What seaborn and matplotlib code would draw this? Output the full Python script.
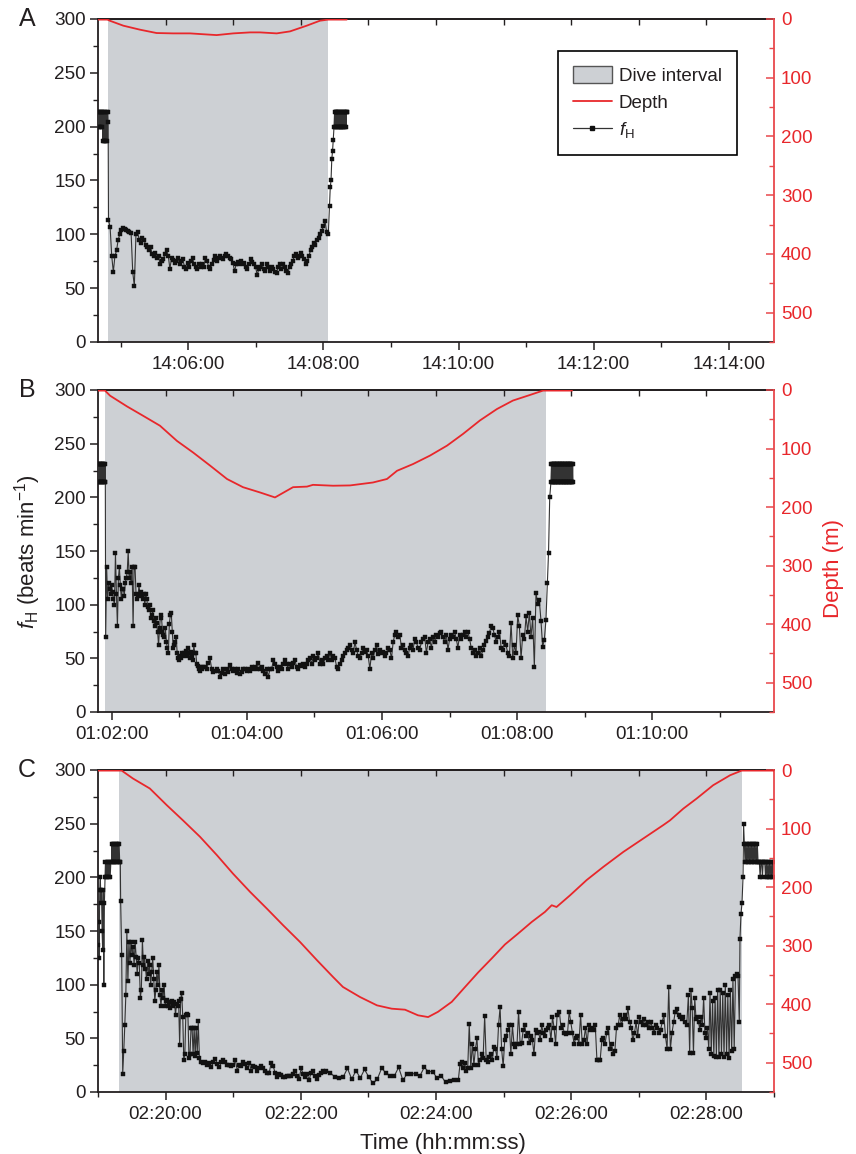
import numpy as np
import matplotlib
matplotlib.use("Agg")
import matplotlib.pyplot as plt
import seaborn as sns
from matplotlib.ticker import MultipleLocator, FuncFormatter, NullFormatter
from matplotlib.patches import Patch
from matplotlib.lines import Line2D

# ------------------------------------------------------------------ data
panel_letters = ["A", "B", "C"]
panel_start_s = [14 * 3600 + 4 * 60 + 40, 1 * 3600 + 1 * 60 + 48, 2 * 3600 + 19 * 60]
window_s = 600
dive_intervals = [(9.2, 203.9), (6.2, 397.6), (18.6, 571.3)]  # s from panel start

# ---- Panel A heart rate (beats/min), segments with (start, end) in s
hrA_pre = [214, 200, 214, 200, 214, 200, 214, 200, 214, 187, 214, 187, 214, 187,
           214, 187, 214, 187, 214, 204]
hrA_dive = [113, 107, 80, 65, 80, 85, 95, 100, 104, 106, 105, 104, 103, 102, 101, 65, 52,
            100, 102, 95, 92, 97, 95, 90, 88, 85, 88, 82, 80, 83, 78, 80, 72, 75, 77, 82,
            85, 80, 68, 78, 76, 73, 75, 78, 72, 75, 77, 70, 68, 73, 70, 75, 78, 72, 70, 68,
            72, 70, 72, 70, 78, 75, 70, 68, 72, 76, 80, 75, 78, 80, 78, 77, 80, 82, 80, 78,
            77, 73, 66, 72, 74, 72, 75, 72, 73, 70, 68, 72, 77, 74, 72, 70, 62, 68, 70, 72,
            68, 66, 72, 70, 66, 70, 68, 65, 64, 70, 72, 68, 72, 70, 66, 64, 70, 72, 75, 80,
            82, 78, 80, 83, 80, 77, 72, 75, 80, 85, 88, 92, 90, 95, 97, 100, 103, 108, 112,
            102, 100]
hrA_rise = [126, 144, 150, 170, 177, 188, 200]
hrA_post = [214, 200, 214, 200, 214, 200, 214, 200, 214, 200, 214, 200, 214, 200,
            214, 200, 214, 200, 214, 200, 214, 200, 214, 200, 214, 200, 214, 214]
hrA_spans = [(0.0, 9.0), (9.3, 204.4), (205.5, 209.5), (210.0, 221.0)]

depthA_t = [0, 8.3, 10.6, 22.5, 37.3, 52, 66.8, 81.8, 90.5, 105.3, 120, 135, 143.8,
            158.6, 170.4, 185.2, 197, 204.4, 220.7]
depthA_m = [1, 1, 3, 11.4, 18.2, 23.9, 24.5, 24.5, 25.6, 27.4, 24.5, 22.8, 22.8,
            24.5, 21.1, 11.4, 2.9, 1, 1]

# ---- Panel B
hrB_pre = [231, 214, 231, 214, 231, 214, 231, 214, 231, 214, 231, 214, 231, 214,
           231, 214, 231, 214, 231, 214]
hrB_dive1 = [70, 135, 105, 120, 115, 110, 118, 112, 105, 100, 148, 110, 80, 125, 135, 118,
             105, 115, 115, 108, 120, 125, 130, 150, 125, 130, 120, 135, 80, 135, 135, 110,
             105, 108, 118, 110, 112, 108, 105, 110, 100, 110, 105, 98, 95, 100, 88, 90, 95,
             85, 80, 88, 83, 75, 62, 78, 90, 88, 75, 72, 70, 78, 65, 60, 55, 82, 90, 92, 75,
             60, 62, 65, 70, 55, 50, 48, 52, 50, 55, 52, 55, 54, 57, 52, 60, 55, 50, 56, 52,
             48, 62, 55, 55, 45, 43, 40, 38, 42, 40]
hrB_dive2 = [42, 42, 40, 46, 50, 40, 37, 38, 40, 38, 33, 36, 40, 35, 40, 37, 44, 40, 38, 40,
             36, 40, 35, 37, 40, 40, 38, 40, 38, 42, 40, 42, 40, 46, 40, 42, 38, 35, 40, 33,
             40, 40, 48, 45, 42, 38, 42, 40, 45, 48, 45, 40, 45, 42, 46, 48, 42, 40, 44, 43,
             45, 42, 45, 48, 50, 45, 52, 48, 50, 55, 45, 48, 45, 50, 52, 48, 55]
hrB_dive3 = [48, 52, 50, 42, 40, 45, 48, 52, 55, 58, 60, 62, 58, 55, 65, 58, 52, 50, 55, 60,
             56, 58, 52, 40, 55, 50, 58, 62, 54, 58, 55, 56, 52, 55, 60, 58, 50, 65, 72, 75,
             70, 72, 60, 62, 58, 55, 52, 60, 62, 58, 68, 65, 60, 58, 65, 68, 70, 55, 65, 68,
             60, 70, 65, 72, 70, 74, 75, 70, 65, 72, 58, 68, 72, 70, 75, 68, 60, 72, 68, 72,
             75, 70, 75, 68, 60, 55, 58, 52, 55, 60, 52, 58, 62, 66, 70, 74, 80, 78, 72, 65,
             70, 75, 60, 58, 65, 62, 55, 52, 83, 50, 62, 55, 90, 80, 50, 72, 68, 89, 75, 92,
             70, 88, 42, 111, 101, 104, 85, 61, 67, 86]
hrB_rise = [120, 148, 200, 214]
hrB_post = [231, 214, 231, 214, 231, 214, 231, 214, 231, 214, 231, 214, 231, 214, 231, 214,
            231, 214, 231, 214, 231, 214, 231, 214, 231, 214, 231, 214, 231, 214, 231, 214,
            231, 214, 231, 214, 231, 214, 231, 214, 231, 214, 231, 214, 231, 214, 231, 214,
            231, 214, 231, 214, 231, 214, 231, 214, 231, 214, 231, 214]
hrB_spans = [(0.0, 6.5), (6.8, 92.0), (93.5, 205.9), (207.4, 397.6), (398.8, 402.0),
             (402.5, 421.6)]

depthB_t = [0, 6.2, 10.7, 25.7, 40, 55, 70.1, 84.3, 99.4, 114.5, 128.7, 143.8, 157.1, 173.1,
            185.5, 190.8, 208.6, 223.7, 244, 256.5, 265.4, 279.6, 294.7, 309.8, 324, 339,
            354.1, 368.3, 383.4, 395, 420.7]
depthB_m = [1, 1, 9.7, 28, 44, 61, 87, 106.6, 129, 152, 166, 175, 183.5, 166, 165, 162,
            163.5, 163, 158, 152, 138, 126.5, 112, 95, 75, 52, 32.5, 18, 8.5, 1, 1]

# ---- Panel C
hrC_pre1 = [137, 158, 125, 188, 200, 176, 188, 150, 132, 188, 100, 176, 200]
hrC_pre2 = [214, 200, 214, 200, 214, 200, 214, 200, 214, 214]
hrC_pre3 = [231, 214, 231, 214, 231, 214, 231, 214, 231, 214, 231, 214, 231, 214, 214]
hrC_dive1 = [178, 128, 17, 38, 62, 90, 150, 103, 140, 120, 140, 128, 135, 118, 140, 126, 110,
             125, 120, 88, 95, 142, 118, 126, 115, 105, 122, 110, 118, 100, 112, 125, 105, 85,
             95, 112, 100, 118, 90, 80, 95, 88, 100, 80, 85, 86, 80, 84, 78, 84, 85, 80, 84,
             72, 82, 80, 85, 44, 87, 92, 70, 30, 35, 72, 73, 72, 32, 35, 60, 60, 35, 60, 34,
             60, 36, 66]
hrC_dive2 = [32, 28, 27, 28, 25, 27, 23, 28, 31, 26, 23, 28, 30, 28, 25, 25, 24, 25, 30, 20,
             25, 24, 28, 26, 22, 27, 20, 24, 23, 20, 22, 24, 22, 20, 18, 18, 27, 24, 18, 14,
             17, 16, 14, 14, 15, 15, 15, 17, 20, 15, 12, 22, 17, 14, 17, 11, 18, 20, 15, 12,
             16, 18, 20, 19]
hrC_dive3a = [20, 18, 14, 13, 14, 22, 12, 20, 13, 21, 14, 8, 12, 22, 18, 15, 15, 23, 11, 17,
              17, 17, 15, 23, 19, 19, 13, 15, 9, 10, 11, 11]
hrC_dive3b = [26, 28, 22, 27, 20, 22, 63, 22, 45, 25, 40, 50, 25, 30, 35, 32, 71, 30, 28, 33,
              35, 30, 42, 40, 32, 62, 79, 40, 24, 48, 52, 58, 62, 35, 62, 45, 42, 45, 75, 45,
              46, 58, 62, 52, 55, 46, 52, 48, 35, 58, 55, 56, 48, 62, 55, 52, 58, 60, 62, 48,
              70, 60, 45, 72]
hrC_dive4a = [75, 60, 62, 55, 54, 55, 75, 65, 55, 45, 50, 52, 45, 72, 45, 48, 60, 45, 62, 58,
              60, 58, 62, 30, 30, 30, 48, 50, 45, 55, 60, 40, 45, 35, 38, 60, 62, 72, 62, 68,
              72, 68, 78, 65, 60, 48, 55, 65, 52, 70, 65, 62, 68, 62, 65, 60, 65, 60, 55, 62,
              60, 55, 58, 65, 72, 52, 40, 98, 40, 55, 65, 75, 77, 72, 70, 68, 70, 65, 62]
hrC_dive4b = [90, 36, 95, 78, 36, 88, 68, 70, 65, 58, 70, 62, 88, 55, 50, 60, 40, 92, 35, 85,
              34, 88, 33, 95, 33, 95, 35, 92, 33, 100, 35, 90, 32, 95, 38, 105, 40, 108, 110,
              108, 65]
hrC_rise = [143, 166, 176, 200]
hrC_post1 = [250, 231, 214, 231, 214, 231, 214, 231, 214, 231, 214, 231, 214, 231, 214, 231,
             214, 231, 214, 231, 214, 214]
hrC_post2 = [214, 200, 214, 214, 200, 214, 214, 214, 200, 214, 200, 214, 200, 214, 200, 214,
             200, 214, 200, 214]
hrC_spans = [(0.0, 6.2), (6.6, 12.0), (12.4, 19.8), (20.1, 89.0), (90.0, 201.5),
             (202.5, 319.8), (321.3, 407.5), (409.5, 522.5), (524.0, 569.2),
             (569.8, 572.5), (573.0, 586.5), (587.0, 600.0)]

depthC_t = [0, 21, 31, 46, 61, 75.4, 90.5, 105.6, 119.8, 134.9, 150, 164.2, 179.3, 194.4,
            208.6, 217.4, 232.5, 247.6, 260.7, 272.5, 284, 293, 301.8, 314, 325.8, 337.3,
            349.4, 361.2, 372.8, 385, 396.7, 402.7, 407, 419, 433.7, 448.5, 466.2, 484,
            501.8, 507.7, 519.5, 531.4, 546, 561, 571.3, 600]
depthC_m = [1, 1, 14.5, 31.6, 60, 86, 114, 145.6, 177, 208, 237, 265, 293.7, 325, 353.5,
            370.6, 387.7, 402, 407.7, 409.4, 419, 422, 413, 396, 370.6, 346, 322, 298,
            279.5, 259.5, 242.4, 231, 234, 214, 188, 165.5, 140, 117, 94, 86, 66, 48.7,
            26, 9, 1, 1]

hr_parts = [
    (hrA_spans, [hrA_pre, hrA_dive, hrA_rise, hrA_post]),
    (hrB_spans, [hrB_pre, hrB_dive1, hrB_dive2, hrB_dive3, hrB_rise, hrB_post]),
    (hrC_spans, [hrC_pre1, hrC_pre2, hrC_pre3, hrC_dive1, hrC_dive2, hrC_dive3a,
                 hrC_dive3b, hrC_dive4a, hrC_dive4b, hrC_rise, hrC_post1, hrC_post2]),
]
depth_series = [(depthA_t, depthA_m), (depthB_t, depthB_m), (depthC_t, depthC_m)]

# ------------------------------------------------------------------ style
sns.set_theme(style="ticks")
plt.rcParams['font.family'] = ['Liberation Sans', 'DejaVu Sans']
plt.rcParams['mathtext.fontset'] = 'custom'
plt.rcParams['mathtext.rm'] = 'Liberation Sans'
plt.rcParams['mathtext.it'] = 'Liberation Sans:italic'
plt.rcParams['mathtext.bf'] = 'Liberation Sans:bold'

GRAY = '#CDD0D4'
RED = '#E8272B'
RED_AX = '#E8484C'
HR_LINE = '#333333'
TXT = '#231F20'
TICK_FS = 13.6
LABEL_FS = 16


def hms(v, pos=None):
    v = int(round(v)) % 86400
    return f"{v // 3600:02d}:{(v % 3600) // 60:02d}:{v % 60:02d}"


def build(spans, parts):
    t = np.concatenate([np.linspace(a, b, len(v)) for (a, b), v in zip(spans, parts)])
    y = np.concatenate([np.asarray(v, dtype=float) for v in parts])
    return t, y


fig = plt.figure(figsize=(8.56, 11.54), dpi=100)
W_PX, H_PX = 856, 1154
left_px, right_px = 98, 774
tops_px = [19, 390, 770]
bottoms_px = [342, 712, 1092]

for i in range(3):
    s0 = panel_start_s[i]
    ax = fig.add_axes([left_px / W_PX, 1 - bottoms_px[i] / H_PX,
                       (right_px - left_px) / W_PX,
                       (bottoms_px[i] - tops_px[i]) / H_PX])
    d0, d1 = dive_intervals[i]
    ax.axvspan(s0 + d0, s0 + d1, color=GRAY, lw=0, zorder=0)

    spans, parts = hr_parts[i]
    t_hr, v_hr = build(spans, parts)
    sns.lineplot(x=s0 + t_hr, y=v_hr, ax=ax, color=HR_LINE, lw=0.8, marker='s',
                 markersize=3.1, markerfacecolor='#111111', markeredgecolor='#111111',
                 markeredgewidth=0.3, estimator=None, sort=False, legend=False, zorder=3)

    ax.set_ylim(0, 300)
    ax.yaxis.set_major_locator(MultipleLocator(50))
    ax.yaxis.set_minor_locator(MultipleLocator(25))
    ax.xaxis.set_major_locator(MultipleLocator(120))
    ax.xaxis.set_minor_locator(MultipleLocator(60))
    ax.xaxis.set_major_formatter(FuncFormatter(hms))
    ax.tick_params(axis='both', which='major', direction='out', length=6, width=1.1,
                   colors=TXT, labelsize=TICK_FS, pad=3)
    ax.tick_params(axis='both', which='minor', direction='out', length=3.5, width=1.0,
                   colors=TXT)
    ax.tick_params(axis='x', which='major', pad=4)
    ax.spines['right'].set_visible(False)
    for sp in ['left', 'top', 'bottom']:
        ax.spines[sp].set_color(TXT)
        ax.spines[sp].set_linewidth(1.3)
    ax.set_xlabel('')
    ax.set_ylabel('')

    # top inward ticks every minute from axis start
    sec = ax.secondary_xaxis('top')
    sec.set_xticks([s0 + 60 * k for k in range(1, 10)])
    sec.xaxis.set_major_formatter(NullFormatter())
    sec.tick_params(direction='in', length=4, width=1.0, colors=TXT)
    sec.spines['top'].set_linewidth(1.3)
    sec.spines['top'].set_color(TXT)

    # depth axis
    ax2 = ax.twinx()
    dt, dm = depth_series[i]
    sns.lineplot(x=s0 + np.asarray(dt, dtype=float), y=np.asarray(dm, dtype=float), ax=ax2,
                 color=RED, lw=1.3, estimator=None, sort=False, legend=False, zorder=4)
    ax2.set_ylim(550, 0)
    ax2.yaxis.set_major_locator(MultipleLocator(100))
    ax2.yaxis.set_minor_locator(MultipleLocator(50))
    for sp in ['left', 'top', 'bottom']:
        ax2.spines[sp].set_visible(False)
    ax2.spines['right'].set_color(RED_AX)
    ax2.spines['right'].set_linewidth(1.3)
    ax2.tick_params(axis='y', which='major', direction='in', length=6, width=1.1,
                    color=RED_AX, labelcolor=RED, labelsize=TICK_FS, pad=5)
    ax2.tick_params(axis='y', which='minor', direction='in', length=3.5, width=1.0,
                    color=RED_AX)
    ax2.set_ylabel('')
    ax.set_xlim(s0, s0 + window_s)

    fig.text(27 / W_PX, 1 - tops_px[i] / H_PX, panel_letters[i], ha='center',
             va='center', fontsize=18, color=TXT)

    if i == 0:
        handles = [
            Patch(facecolor=GRAY, edgecolor='#555555', linewidth=1.0, label='Dive interval'),
            Line2D([], [], color=RED, lw=1.3, label='Depth'),
            Line2D([], [], color=HR_LINE, lw=0.9, marker='s', markersize=3,
                   markerfacecolor='#111111', markeredgecolor='#111111',
                   label=r'$f_\mathrm{H}$'),
        ]
        leg = ax2.legend(handles=handles, loc='upper left', bbox_to_anchor=(0.680, 0.901),
                         frameon=True, fancybox=False, edgecolor='black', framealpha=1,
                         fontsize=13.5, handlelength=2.1, handleheight=1.0,
                         labelspacing=0.45, borderpad=0.8, handletextpad=0.35,
                         borderaxespad=0)
        leg.get_frame().set_linewidth(1.2)
        for txt in leg.get_texts():
            txt.set_color(TXT)
    if i == 1:
        ax.set_ylabel(r'$f_\mathrm{H}$ (beats min$^{-1}$)', fontsize=LABEL_FS, color=TXT)
        ax.yaxis.set_label_coords(-0.081, 0.498)
        ax2.set_ylabel('Depth (m)', fontsize=LABEL_FS, color=RED)
        ax2.yaxis.set_label_coords(1.0725, 0.447)
    if i == 2:
        ax.set_xlabel('Time (hh:mm:ss)', fontsize=LABEL_FS, color=TXT)
        ax.xaxis.set_label_coords(0.51, -0.127)

fig.savefig('out.png', dpi=100)
